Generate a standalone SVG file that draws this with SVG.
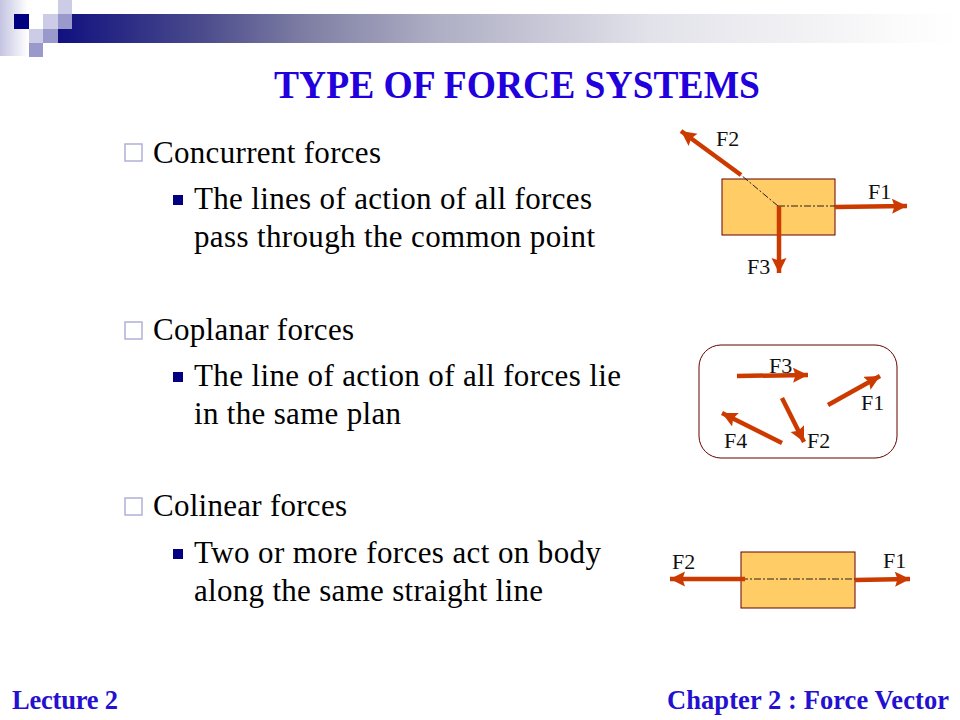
<svg xmlns="http://www.w3.org/2000/svg" width="960" height="720" viewBox="0 0 960 720">
<style>
text{font-family:"Liberation Serif","Times New Roman",serif;fill:#000}
.l1,.l2{font-size:31px}
.fl{font-size:22px;fill:#111}
.foot{font-size:26.5px;font-weight:bold;fill:#2410d0}
.arrow{stroke:#cc3a00;stroke-width:4.5;fill:none}
.head{fill:#cc3a00}
.dash{stroke:#222;stroke-width:1;stroke-dasharray:7 2 2 2;fill:none}
.box{fill:#ffcc66;stroke:#660000;stroke-width:1}
.b1{fill:#fff;stroke:#b0b0d8;stroke-width:1.5}
.b2{fill:#000080}
</style>
<defs>
<linearGradient id="bar"><stop offset="0" stop-color="#101080"/><stop offset="0.157" stop-color="#4a4a8c"/><stop offset="0.279" stop-color="#8080a5"/><stop offset="0.417" stop-color="#adadc4"/><stop offset="0.656" stop-color="#e2e2ea"/><stop offset="0.933" stop-color="#fbfbfb"/><stop offset="1" stop-color="#ffffff"/></linearGradient>
<linearGradient id="side"><stop offset="0" stop-color="#c4c4e2"/><stop offset="1" stop-color="#ffffff"/></linearGradient>
<marker id="ah" markerUnits="userSpaceOnUse" markerWidth="18" markerHeight="16" refX="15" refY="7.5" orient="auto"><path class="head" d="M0 0L15 7.5L0 15L2.5 7.5Z"/></marker>
</defs>
<g id="header">
<rect x="0" y="0" width="28" height="56" fill="url(#side)"/>
<rect x="58" y="14" width="902" height="29" fill="url(#bar)"/>
<rect x="58" y="0" width="14" height="14" fill="#ccccE6"/>
<rect x="14" y="14" width="15" height="15" fill="#000080"/>
<rect x="29" y="14" width="14" height="15" fill="#ffffff"/>
<rect x="43" y="14" width="15" height="15" fill="#ccccE6"/>
<rect x="58" y="14" width="14" height="15" fill="#9999cc"/>
<rect x="29" y="29" width="14" height="14" fill="#ccccE6"/>
<rect x="43" y="29" width="15" height="14" fill="#9999cc"/>
<rect x="29" y="43" width="14" height="14" fill="#9999cc"/>
</g>
<g id="title"><text x="274" y="98" font-size="39" font-weight="bold" textLength="486" lengthAdjust="spacingAndGlyphs" style="fill:#2200dd">TYPE OF FORCE SYSTEMS</text></g>
<g id="bullets">
<rect class="b1" x="125" y="144" width="17" height="17"/>
<text class="l1" x="153" y="162.5" textLength="228">Concurrent forces</text>
<rect class="b2" x="173" y="195" width="10" height="10"/>
<text class="l2" x="194" y="208.5" textLength="398">The lines of action of all forces</text>
<text class="l2" x="194" y="246.5" textLength="401">pass through the common point</text>
<rect class="b1" x="125" y="322" width="17" height="17"/>
<text class="l1" x="153" y="339.5" textLength="201">Coplanar forces</text>
<rect class="b2" x="173" y="372" width="10" height="10"/>
<text class="l2" x="194" y="385.5" textLength="427">The line of action of all forces lie</text>
<text class="l2" x="194" y="423.5" textLength="207">in the same plan</text>
<rect class="b1" x="125" y="498" width="17" height="17"/>
<text class="l1" x="153" y="515.5" textLength="194">Colinear forces</text>
<rect class="b2" x="173" y="549" width="10" height="10"/>
<text class="l2" x="194" y="562.5" textLength="407">Two or more forces act on body</text>
<text class="l2" x="194" y="600.5" textLength="349">along the same straight line</text>
</g>
<g id="node-concurrent-body"><rect class="box" x="722" y="179" width="113" height="56"/></g>
<g id="node-coplanar-body"><rect x="699" y="345" width="198" height="113" rx="22" fill="#fff" stroke="#660000" stroke-width="1"/></g>
<g id="node-colinear-body"><rect class="box" x="741" y="552" width="114" height="56"/></g>
<g id="connectors">
<path class="dash" d="M778 206H835M778 206L741 175"/>
<path class="arrow" marker-end="url(#ah)" d="M835 207L907 206"/>
<path class="arrow" marker-end="url(#ah)" d="M741 175L681 131"/>
<path class="arrow" marker-end="url(#ah)" d="M779 206V273"/>
<path class="arrow" marker-end="url(#ah)" d="M737 376L808 375"/>
<path class="arrow" marker-end="url(#ah)" d="M828 405L880 376"/>
<path class="arrow" marker-end="url(#ah)" d="M782 398L804 442"/>
<path class="arrow" marker-end="url(#ah)" d="M782 443L722 413"/>
<path class="dash" d="M741 579H855"/>
<path class="arrow" marker-end="url(#ah)" d="M745 579H670"/>
<path class="arrow" marker-end="url(#ah)" d="M855 580L910 579"/>
</g>
<g id="labels">
<text class="fl" x="716" y="146">F2</text>
<text class="fl" x="868" y="199">F1</text>
<text class="fl" x="747" y="274">F3</text>
<text class="fl" x="769" y="373">F3</text>
<text class="fl" x="861" y="410">F1</text>
<text class="fl" x="724" y="448">F4</text>
<text class="fl" x="807" y="448">F2</text>
<text class="fl" x="672" y="569">F2</text>
<text class="fl" x="883" y="568">F1</text>
</g>
<g id="footer">
<text class="foot" x="12" y="709" textLength="106">Lecture 2</text>
<text class="foot" x="667" y="709" textLength="282">Chapter 2 : Force Vector</text>
</g>
</svg>
